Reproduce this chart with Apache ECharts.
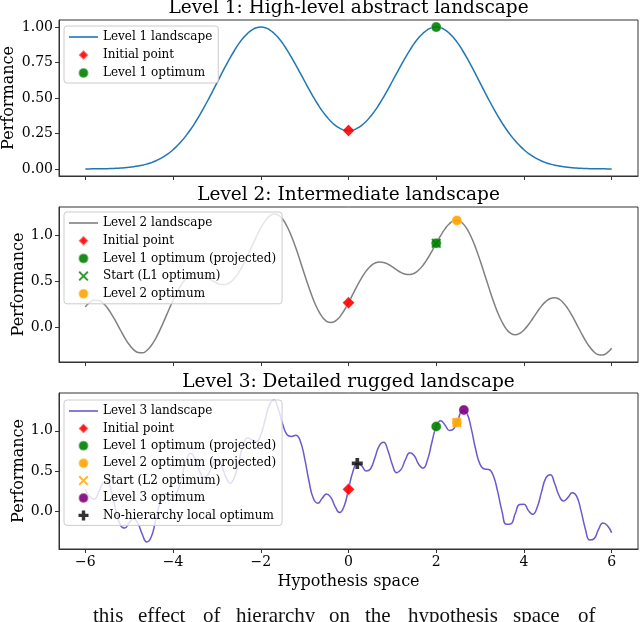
<!DOCTYPE html>
<html>
<head>
<meta charset="utf-8">
<title>Hierarchical landscapes</title>
<script src="https://cdn.jsdelivr.net/npm/echarts@6/dist/echarts.min.js"></script>
<style>
  html, body { margin: 0; padding: 0; background: #fff; }
  #main { width: 640px; height: 622px; }
</style>
</head>
<body>
<div id="main"></div>
<script>
// shared hypothesis-space grid
var xs = [
  -6.0, -5.9, -5.8, -5.7, -5.6, -5.5, -5.4, -5.3, -5.2, -5.1,
  -5.0, -4.9, -4.8, -4.7, -4.6, -4.5, -4.4, -4.3, -4.2, -4.1,
  -4.0, -3.9, -3.8, -3.7, -3.6, -3.5, -3.4, -3.3, -3.2, -3.1,
  -3.0, -2.9, -2.8, -2.7, -2.6, -2.5, -2.4, -2.3, -2.2, -2.1,
  -2.0, -1.9, -1.8, -1.7, -1.6, -1.5, -1.4, -1.3, -1.2, -1.1,
  -1.0, -0.9, -0.8, -0.7, -0.6, -0.5, -0.4, -0.3, -0.2, -0.1,
  0.0,
  0.1, 0.2, 0.3, 0.4, 0.5, 0.6, 0.7, 0.8, 0.9, 1.0,
  1.1, 1.2, 1.3, 1.4, 1.5, 1.6, 1.7, 1.8, 1.9, 2.0,
  2.1, 2.2, 2.3, 2.4, 2.5, 2.6, 2.7, 2.8, 2.9, 3.0,
  3.1, 3.2, 3.3, 3.4, 3.5, 3.6, 3.7, 3.8, 3.9, 4.0,
  4.1, 4.2, 4.3, 4.4, 4.5, 4.6, 4.7, 4.8, 4.9, 5.0,
  5.1, 5.2, 5.3, 5.4, 5.5, 5.6, 5.7, 5.8, 5.9, 6.0
];

var level1 = [
  0.000, 0.000, 0.001, 0.001, 0.002, 0.002, 0.003, 0.004, 0.006, 0.008,
  0.011, 0.015, 0.020, 0.026, 0.034, 0.044, 0.056, 0.071, 0.089, 0.110,
  0.135, 0.165, 0.198, 0.236, 0.278, 0.325, 0.375, 0.430, 0.487, 0.546,
  0.607, 0.667, 0.726, 0.783, 0.835, 0.883, 0.923, 0.956, 0.980, 0.995,
  1.000, 0.996, 0.981, 0.957, 0.925, 0.885, 0.838, 0.787, 0.732, 0.675,
  0.618, 0.561, 0.507, 0.456, 0.409, 0.369, 0.334, 0.307, 0.287, 0.275,
  0.271,
  0.275, 0.287, 0.307, 0.334, 0.369, 0.409, 0.456, 0.507, 0.561, 0.618,
  0.675, 0.732, 0.787, 0.838, 0.885, 0.925, 0.957, 0.981, 0.996, 1.000,
  0.995, 0.980, 0.956, 0.923, 0.883, 0.835, 0.783, 0.726, 0.667, 0.607,
  0.546, 0.487, 0.430, 0.375, 0.325, 0.278, 0.236, 0.198, 0.165, 0.135,
  0.110, 0.089, 0.071, 0.056, 0.044, 0.034, 0.026, 0.020, 0.015, 0.011,
  0.008, 0.006, 0.004, 0.003, 0.002, 0.002, 0.001, 0.001, 0.000, 0.000
];

var level2 = [
  0.226, 0.274, 0.299, 0.296, 0.268, 0.216, 0.145, 0.062, -0.026, -0.111,
  -0.184, -0.239, -0.270, -0.274, -0.249, -0.197, -0.122, -0.027, 0.079, 0.189,
  0.296, 0.393, 0.474, 0.534, 0.572, 0.589, 0.585, 0.567, 0.539, 0.509,
  0.483, 0.468, 0.470, 0.492, 0.536, 0.601, 0.685, 0.783, 0.887, 0.990,
  1.084, 1.161, 1.213, 1.235, 1.224, 1.178, 1.100, 0.993, 0.865, 0.723,
  0.575, 0.433, 0.304, 0.197, 0.117, 0.069, 0.055, 0.072, 0.117, 0.186,
  0.271,
  0.364, 0.456, 0.542, 0.614, 0.668, 0.701, 0.715, 0.709, 0.689, 0.660,
  0.628, 0.599, 0.581, 0.577, 0.591, 0.626, 0.679, 0.749, 0.830, 0.917,
  1.000, 1.074, 1.130, 1.161, 1.164, 1.135, 1.074, 0.983, 0.866, 0.730,
  0.584, 0.435, 0.292, 0.165, 0.061, -0.016, -0.063, -0.078, -0.064, -0.026,
  0.031, 0.099, 0.169, 0.234, 0.285, 0.317, 0.326, 0.310, 0.269, 0.206,
  0.127, 0.038, -0.053, -0.139, -0.211, -0.265, -0.294, -0.297, -0.273, -0.225
];

var level3 = [
  0.271, 0.179, 0.150, 0.231, 0.346, 0.366, 0.229, 0.002, -0.174, -0.211,
  -0.145, -0.096, -0.155, -0.292, -0.384, -0.325, -0.124, 0.098, 0.216, 0.213,
  0.185, 0.249, 0.429, 0.631, 0.721, 0.653, 0.506, 0.417, 0.456, 0.569,
  0.631, 0.568, 0.429, 0.348, 0.421, 0.621, 0.821, 0.910, 0.888, 0.865,
  0.947, 1.138, 1.325, 1.379, 1.267, 1.081, 0.951, 0.930, 0.945, 0.873,
  0.657, 0.371, 0.156, 0.098, 0.159, 0.213, 0.168, 0.051, -0.019, 0.060,
  0.271,
  0.490, 0.593, 0.563, 0.500, 0.524, 0.660, 0.813, 0.858, 0.751, 0.578,
  0.478, 0.519, 0.644, 0.726, 0.689, 0.583, 0.535, 0.636, 0.853, 1.053,
  1.126, 1.073, 1.003, 1.025, 1.144, 1.249, 1.217, 1.023, 0.766, 0.582,
  0.523, 0.517, 0.442, 0.245, -0.003, -0.165, -0.159, -0.033, 0.081, 0.086,
  0.008, -0.039, 0.045, 0.236, 0.413, 0.452, 0.344, 0.194, 0.126, 0.167,
  0.228, 0.186, 0.006, -0.222, -0.361, -0.343, -0.229, -0.148, -0.178, -0.271
];

var xTicks = [-6, -4, -2, 0, 2, 4, 6];
var yTicks1 = [0, 0.25, 0.5, 0.75, 1.0];
var yTicks2 = [0, 0.5, 1.0];
var yTicks3 = [0, 0.5, 1.0];

// marked points [x, performance]
var initialPoint = [0, 0.271];
var l1Optimum = [2, 1.0];
var l1OptimumOnL2 = [2, 0.917];
var l2Optimum = [2.47, 1.166];
var l1OptimumOnL3 = [2, 1.053];
var l2OptimumOnL3 = [2.47, 1.102];
var l3Optimum = [2.63, 1.258];
var noHierarchyOptimum = [0.2, 0.593];

var titles = [
  'Level 1: High-level abstract landscape',
  'Level 2: Intermediate landscape',
  'Level 3: Detailed rugged landscape'
];
var footerWords = ['this', 'effect', 'of', 'hierarchy', 'on', 'the', 'hypothesis', 'space', 'of'];
var footerX = [93, 138, 203, 236, 329, 365, 408, 513, 578];

var FONT = 'DejaVu Serif';
var AXIS_COLOR = '#333';
var X_PATH = 'path://M0,1.4L1.4,0L5,3.6L8.6,0L10,1.4L6.4,5L10,8.6L8.6,10L5,6.4L1.4,10L0,8.6L3.6,5Z';
var PLUS_PATH = 'path://M3.3,0H6.7V3.3H10V6.7H6.7V10H3.3V6.7H0V3.3H3.3Z';
var DIAMOND_PATH = 'path://M5,0L10,5L5,10L0,5Z';
var LINE_ICON = 'path://M0,0H29V1.6H0Z';

var panels = [
  { top: 20, height: 156, min: -0.05, max: 1.05, ticks: yTicks1, digits: 2, nameGap: 42 },
  { top: 207, height: 155, min: -0.374, max: 1.312, ticks: yTicks2, digits: 1, nameGap: 32 },
  { top: 393, height: 156, min: -0.472, max: 1.470, ticks: yTicks3, digits: 1, nameGap: 32 }
];

function minusFmt(v) {
  return v < 0 ? '\u2212' + Math.abs(v) : String(v);
}

function lineSeries(name, values, color, idx) {
  return {
    type: 'line', name: name, xAxisIndex: idx, yAxisIndex: idx,
    data: xs.map(function (x, j) { return [x, values[j]]; }),
    symbol: 'none', smooth: true,
    lineStyle: { color: color, width: 1.5 },
    itemStyle: { color: color },
    z: 2
  };
}

function markerSeries(name, point, symbol, size, color, idx) {
  var filled = symbol === 'circle' || symbol === DIAMOND_PATH;
  return {
    type: 'scatter', name: name, xAxisIndex: idx, yAxisIndex: idx,
    data: [point], symbol: symbol, symbolSize: size,
    itemStyle: filled
      ? { color: color, opacity: 0.9, borderColor: 'rgba(255,255,255,0.45)', borderWidth: 0.8 }
      : { color: color },
    z: 5
  };
}

// line entries get a plain stroke icon, markers keep their own symbol
function legendAt(top, names, gap) {
  return {
    left: 64, top: top, orient: 'vertical', selectedMode: false,
    data: names.map(function (n, i) { return i === 0 ? { name: n, icon: LINE_ICON } : { name: n }; }),
    itemWidth: 29, itemHeight: 10, itemGap: gap, symbolKeepAspect: true,
    padding: [5, 6, 4, 5],
    backgroundColor: 'rgba(255,255,255,0.8)', borderColor: '#cccccc', borderWidth: 1, borderRadius: 3,
    textStyle: { fontFamily: FONT, fontSize: 12, color: '#000' }
  };
}

var chart = echarts.init(document.getElementById('main'));

var option = {
  animation: false,
  backgroundColor: '#fff',
  grid: panels.map(function (p) {
    return {
      left: 59, right: 2, top: p.top, height: p.height, outerBoundsMode: 'none',
      show: true, borderColor: AXIS_COLOR, borderWidth: 1
    };
  }),
  xAxis: panels.map(function (p, i) {
    return {
      type: 'value', gridIndex: i, min: -6.6, max: 6.6,
      axisLine: { show: true, onZero: false, lineStyle: { color: AXIS_COLOR, width: 1 } },
      axisTick: { show: true, customValues: xTicks, length: 4, lineStyle: { color: AXIS_COLOR } },
      axisLabel: { show: i === 2, customValues: xTicks, margin: 6, fontFamily: FONT, fontSize: 14, color: '#000', formatter: minusFmt },
      splitLine: { show: false },
      name: i === 2 ? 'Hypothesis space' : '', nameLocation: 'middle', nameGap: 25, nameMoveOverlap: false,
      nameTextStyle: { fontFamily: FONT, fontSize: 16, color: '#000' }
    };
  }),
  yAxis: panels.map(function (p, i) {
    return {
      type: 'value', gridIndex: i, min: p.min, max: p.max,
      axisLine: { show: true, onZero: false, lineStyle: { color: AXIS_COLOR, width: 1 } },
      axisTick: { show: true, customValues: p.ticks, length: 4, lineStyle: { color: AXIS_COLOR } },
      axisLabel: {
        customValues: p.ticks, margin: 6, fontFamily: FONT, fontSize: 14, color: '#000',
        formatter: function (v) { return v.toFixed(p.digits); }
      },
      splitLine: { show: false },
      name: 'Performance', nameLocation: 'middle', nameGap: p.nameGap, nameMoveOverlap: false,
      nameTextStyle: { fontFamily: FONT, fontSize: 16, color: '#000' }
    };
  }),
  legend: [
    legendAt(26, ['Level 1 landscape', 'Initial point', 'Level 1 optimum'], 6),
    legendAt(212, ['Level 2 landscape', 'Initial point', 'Level 1 optimum (projected)', 'Start (L1 optimum)', 'Level 2 optimum'], 5.7),
    legendAt(400, ['Level 3 landscape', 'Initial point', 'Level 1 optimum (projected)', 'Level 2 optimum (projected)', 'Start (L2 optimum)', 'Level 3 optimum', 'No-hierarchy local optimum'], 5.4)
  ],
  graphic: titles.map(function (t, i) {
    return {
      type: 'text', x: 348.5, y: [8, 195, 382][i],
      style: { text: t, fontFamily: FONT, fontSize: 18.5, fill: '#000', align: 'center', verticalAlign: 'middle', textAlign: 'center', textVerticalAlign: 'middle' }
    };
  }).concat(footerWords.map(function (w, i) {
    return {
      type: 'text', x: footerX[i], y: 627,
      style: { text: w, fontFamily: 'Liberation Serif', fontSize: 21, fill: '#111', verticalAlign: 'bottom', textVerticalAlign: 'bottom' }
    };
  })),
  series: [
    lineSeries('Level 1 landscape', level1, '#1f77b4', 0),
    markerSeries('Initial point', initialPoint, DIAMOND_PATH, 12, '#ff0000', 0),
    markerSeries('Level 1 optimum', l1Optimum, 'circle', 10, '#008000', 0),

    lineSeries('Level 2 landscape', level2, '#808080', 1),
    markerSeries('Initial point', initialPoint, DIAMOND_PATH, 12, '#ff0000', 1),
    markerSeries('Level 1 optimum (projected)', l1OptimumOnL2, 'circle', 10, '#008000', 1),
    markerSeries('Start (L1 optimum)', l1OptimumOnL2, X_PATH, 10, '#008000', 1),
    markerSeries('Level 2 optimum', l2Optimum, 'circle', 10, '#ffa500', 1),

    lineSeries('Level 3 landscape', level3, '#6a5acd', 2),
    markerSeries('Initial point', initialPoint, DIAMOND_PATH, 12, '#ff0000', 2),
    markerSeries('Level 1 optimum (projected)', l1OptimumOnL3, 'circle', 10, '#008000', 2),
    markerSeries('Level 2 optimum (projected)', l2OptimumOnL3, 'circle', 10, '#ffa500', 2),
    markerSeries('Start (L2 optimum)', l2OptimumOnL3, X_PATH, 10, '#ffa500', 2),
    markerSeries('Level 3 optimum', l3Optimum, 'circle', 10, '#800080', 2),
    markerSeries('No-hierarchy local optimum', noHierarchyOptimum, PLUS_PATH, 11, '#000000', 2)
  ]
};

chart.setOption(option);
</script>
</body>
</html>
